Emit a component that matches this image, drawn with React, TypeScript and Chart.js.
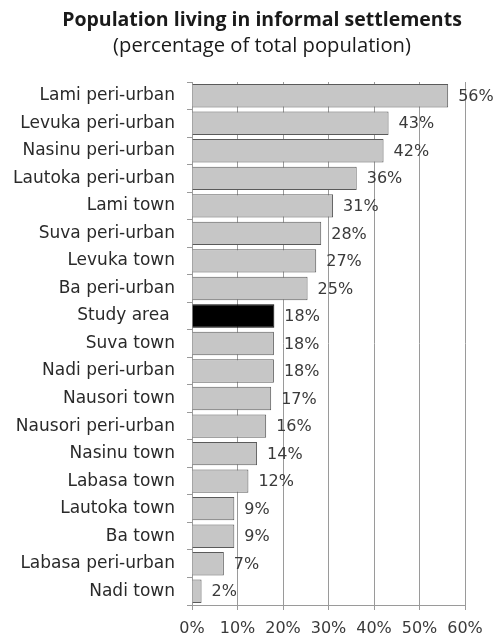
import React, { useEffect, useRef } from "react";
import { Chart, registerables } from "chart.js";

Chart.register(...registerables);

const categories = [
  "Lami peri-urban",
  "Levuka peri-urban",
  "Nasinu peri-urban",
  "Lautoka peri-urban",
  "Lami town",
  "Suva peri-urban",
  "Levuka town",
  "Ba peri-urban",
  "Study area ",
  "Suva town",
  "Nadi peri-urban",
  "Nausori town",
  "Nausori peri-urban",
  "Nasinu town",
  "Labasa town",
  "Lautoka town",
  "Ba town",
  "Labasa peri-urban",
  "Nadi town",
];

const values = [56.3, 43.2, 42.1, 36.2, 31.0, 28.4, 27.3, 25.4, 18.1, 18.0, 18.0, 17.4, 16.3, 14.3, 12.4, 9.3, 9.3, 7.0, 2.1];

const highlighted = "Study area ";

const xTicks = [0, 10, 20, 30, 40, 50, 60];

const titleText = "Population living in informal settlements";
const subtitleText = "(percentage of total population)";

const labelFont = "DejaVu Sans";

const valueLabels = {
  id: "valueLabels",
  afterDatasetsDraw(chart: any) {
    const ctx = chart.ctx;
    const meta = chart.getDatasetMeta(0);
    ctx.save();
    ctx.font = `16px "${labelFont}"`;
    ctx.fillStyle = "#3a3a3a";
    ctx.textAlign = "left";
    ctx.textBaseline = "middle";
    meta.data.forEach((bar: any, i: number) => {
      ctx.fillText(Math.round(values[i]) + "%", bar.x + 10, bar.y + 1);
    });
    ctx.restore();
  },
};

const headings = {
  id: "headings",
  afterDraw(chart: any) {
    const ctx = chart.ctx;
    ctx.save();
    ctx.fillStyle = "#1a1a1a";
    ctx.textAlign = "center";
    ctx.textBaseline = "middle";
    ctx.font = `bold 19.5px "Open Sans"`;
    ctx.fillText(titleText, 262, 20);
    ctx.font = `20.2px "Open Sans"`;
    ctx.fillText(subtitleText, 262, 46);
    ctx.restore();
  },
};

export default function App() {
  const ref = useRef<HTMLCanvasElement | null>(null);

  useEffect(() => {
    document.body.style.margin = "0";
    if (!ref.current) return;
    const chart = new Chart(ref.current, {
      type: "bar",
      data: {
        labels: categories,
        datasets: [
          {
            data: values,
            backgroundColor: categories.map((c) => (c === highlighted ? "#000000" : "#c6c6c6")),
            borderColor: categories.map((c) => (c === highlighted ? "#000000" : "#5a5a5a")),
            borderWidth: 1,
            barPercentage: 0.85,
            categoryPercentage: 1,
          },
        ],
      },
      plugins: [valueLabels, headings],
      options: {
        indexAxis: "y",
        animation: false,
        responsive: true,
        maintainAspectRatio: false,
        layout: { padding: { left: 0, right: 29, top: 82, bottom: 0 } },
        plugins: {
          legend: { display: false },
          tooltip: { enabled: false },
          title: { display: false },
        },
        scales: {
          x: {
            min: 0,
            max: 60,
            afterBuildTicks(scale: any) {
              scale.ticks = xTicks.map((v) => ({ value: v }));
            },
            afterFit(scale: any) {
              scale.height = 34;
            },
            ticks: {
              callback: (v: any) => v + "%",
              color: "#3a3a3a",
              font: { family: labelFont, size: 16 },
              padding: 9,
              maxRotation: 0,
            },
            grid: {
              color: "#9a9a9a",
              lineWidth: 1,
              drawTicks: true,
              tickLength: 5,
            },
            border: { display: true, color: "#9a9a9a" },
          },
          y: {
            afterFit(scale: any) {
              scale.width = 192;
            },
            ticks: {
              color: "#2a2a2a",
              font: { family: labelFont, size: 17 },
              padding: 12,
              autoSkip: false,
            },
            grid: {
              drawOnChartArea: false,
              drawTicks: true,
              tickLength: 5,
              color: "#9a9a9a",
            },
            border: { display: true, color: "#9a9a9a" },
          },
        },
      },
    });
    return () => chart.destroy();
  }, []);

  return (
    <div style={{ position: "absolute", left: 0, top: 0, width: 494, height: 639, background: "#ffffff" }}>
      <canvas ref={ref} />
    </div>
  );
}
